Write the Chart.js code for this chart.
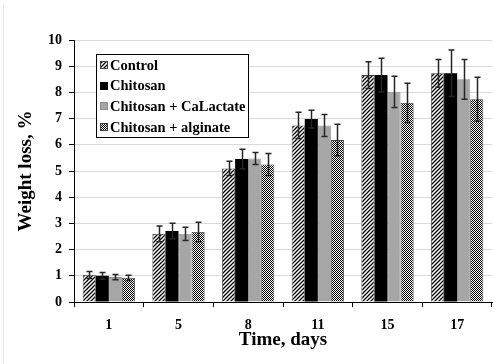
<!DOCTYPE html>
<html>
<head>
<meta charset="utf-8">
<script src="https://cdn.jsdelivr.net/npm/chart.js@4/dist/chart.umd.min.js"></script>
<style>
html,body{margin:0;padding:0;background:#fff;}
#wrap{width:494px;height:364px;position:relative;}
</style>
</head>
<body>
<div id="wrap"><canvas id="c" width="494" height="364"></canvas></div>
<script>
const categories = ['1', '5', '8', '11', '15', '17'];
const seriesNames = ['Control', 'Chitosan', 'Chitosan + CaLactate', 'Chitosan + alginate'];
const control      = [1.03, 2.60, 5.10, 6.74, 8.66, 8.73];
const controlErr   = [0.13, 0.30, 0.27, 0.50, 0.51, 0.53];
const chitosan     = [1.00, 2.71, 5.46, 6.98, 8.66, 8.73];
const chitosanErr  = [0.13, 0.30, 0.37, 0.34, 0.64, 0.89];
const caLactate    = [0.95, 2.60, 5.48, 6.74, 8.02, 8.50];
const caLactateErr = [0.10, 0.25, 0.23, 0.42, 0.60, 0.76];
const alginate     = [0.92, 2.67, 5.25, 6.18, 7.60, 7.74];
const alginateErr  = [0.10, 0.37, 0.42, 0.60, 0.75, 0.84];
const yTicks = [0, 1, 2, 3, 4, 5, 6, 7, 8, 9, 10];

function stripePattern() {
  const c = document.createElement('canvas'); c.width = 4; c.height = 4;
  const g = c.getContext('2d');
  g.fillStyle = '#fff'; g.fillRect(0, 0, 4, 4);
  g.strokeStyle = '#000'; g.lineWidth = 1.3;
  g.beginPath();
  g.moveTo(-1, 5); g.lineTo(5, -1);
  g.moveTo(-1, 1); g.lineTo(1, -1);
  g.moveTo(3, 5); g.lineTo(5, 3);
  g.stroke();
  return g.createPattern(c, 'repeat');
}
function checkerPattern() {
  const c = document.createElement('canvas'); c.width = 2; c.height = 2;
  const g = c.getContext('2d');
  g.fillStyle = '#fff'; g.fillRect(0, 0, 2, 2);
  g.fillStyle = '#000'; g.fillRect(0, 0, 1, 1); g.fillRect(1, 1, 1, 1);
  return g.createPattern(c, 'repeat');
}
const ctx0 = document.getElementById('c').getContext('2d');
const fills = [stripePattern(), '#000000', '#a6a6a6', checkerPattern()];
const borders = ['#404040', '#000000', '#8c8c8c', '#404040'];
const values = [control, chitosan, caLactate, alginate];
const errors = [controlErr, chitosanErr, caLactateErr, alginateErr];

const FONT = "'Liberation Serif', 'Times New Roman', serif";

const errorBars = {
  id: 'errorBars',
  afterDatasetsDraw(chart) {
    const y = chart.scales.y;
    const g = chart.ctx;
    g.save();
    g.strokeStyle = '#262626';
    g.lineWidth = 1.5;
    chart.data.datasets.forEach((ds, di) => {
      const meta = chart.getDatasetMeta(di);
      meta.data.forEach((bar, i) => {
        const v = ds.data[i], e = errors[di][i];
        const x = Math.round(bar.x) + 0.5;
        const yt = y.getPixelForValue(v + e), yb = y.getPixelForValue(v - e);
        g.beginPath();
        g.moveTo(x, yt); g.lineTo(x, yb);
        g.moveTo(x - 3, yt); g.lineTo(x + 3, yt);
        g.moveTo(x - 3, yb); g.lineTo(x + 3, yb);
        g.stroke();
      });
    });
    g.restore();
  }
};

const frame = {
  id: 'frame',
  beforeDraw(chart) {
    const g = chart.ctx;
    g.save();
    g.fillStyle = '#fff'; g.fillRect(0, 0, chart.width, chart.height);
    g.strokeStyle = '#e8e8e8'; g.lineWidth = 1;
    g.beginPath(); g.moveTo(3.5, 5); g.lineTo(3.5, chart.height); g.stroke();
    g.restore();
  }
};

const boxLegend = {
  id: 'boxLegend',
  afterDraw(chart) {
    const g = chart.ctx;
    const bx = 96, by = 54, bw = 152, bh = 83;
    g.save();
    g.fillStyle = '#fff';
    g.fillRect(bx, by, bw, bh);
    g.strokeStyle = '#000'; g.lineWidth = 1;
    g.strokeRect(bx + 0.5, by + 0.5, bw, bh);
    g.font = 'bold 14.5px ' + FONT;
    g.textBaseline = 'middle';
    chart.data.datasets.forEach((ds, i) => {
      const cy = by + 11 + i * 20.6;
      g.fillStyle = ds.backgroundColor;
      g.fillRect(100, Math.round(cy - 4), 8, 8);
      g.strokeStyle = ds.borderColor; g.lineWidth = 1;
      g.strokeRect(100.5, Math.round(cy - 4) + 0.5, 7, 7);
      g.fillStyle = '#000';
      g.fillText(ds.label, 110, cy + 1);
    });
    g.restore();
  }
};

new Chart(ctx0, {
  type: 'bar',
  data: {
    labels: categories,
    datasets: seriesNames.map((n, i) => ({
      label: n,
      data: values[i],
      backgroundColor: fills[i],
      borderColor: borders[i],
      borderWidth: i === 1 ? 0 : 0.8,
      categoryPercentage: 0.75,
      barPercentage: 1.0
    }))
  },
  options: {
    responsive: false,
    animation: false,
    devicePixelRatio: 1,
    layout: { padding: { left: 0, right: 2, top: 40, bottom: 0 } },
    plugins: { legend: { display: false }, tooltip: { enabled: false } },
    scales: {
      x: {
        grid: { offset: true, drawOnChartArea: false, tickLength: 5, tickColor: '#000', lineWidth: 1 },
        border: { color: '#000', width: 1 },
        ticks: { color: '#000', font: { family: FONT, size: 14, weight: 'bold' }, padding: 10 },
        title: { display: true, text: 'Time, days', color: '#000', font: { family: FONT, size: 19, weight: 'bold' }, padding: { top: 2, bottom: 13 } },
        afterFit(s) { s.height = 62; }
      },
      y: {
        min: 0, max: 10,
        afterBuildTicks(s) { s.ticks = yTicks.map(v => ({ value: v })); },
        grid: { color: '#d9d9d9', tickColor: '#000', tickLength: 5, lineWidth: 1 },
        border: { color: '#000', width: 1 },
        ticks: { color: '#000', font: { family: FONT, size: 14, weight: 'bold' }, padding: 7 },
        title: { display: true, text: 'Weight loss, %', color: '#000', font: { family: FONT, size: 19, weight: 'bold' }, padding: { top: 15, bottom: 0 } },
        afterFit(s) { s.width = 74; }
      }
    }
  },
  plugins: [frame, errorBars, boxLegend]
});
</script>
</body>
</html>
